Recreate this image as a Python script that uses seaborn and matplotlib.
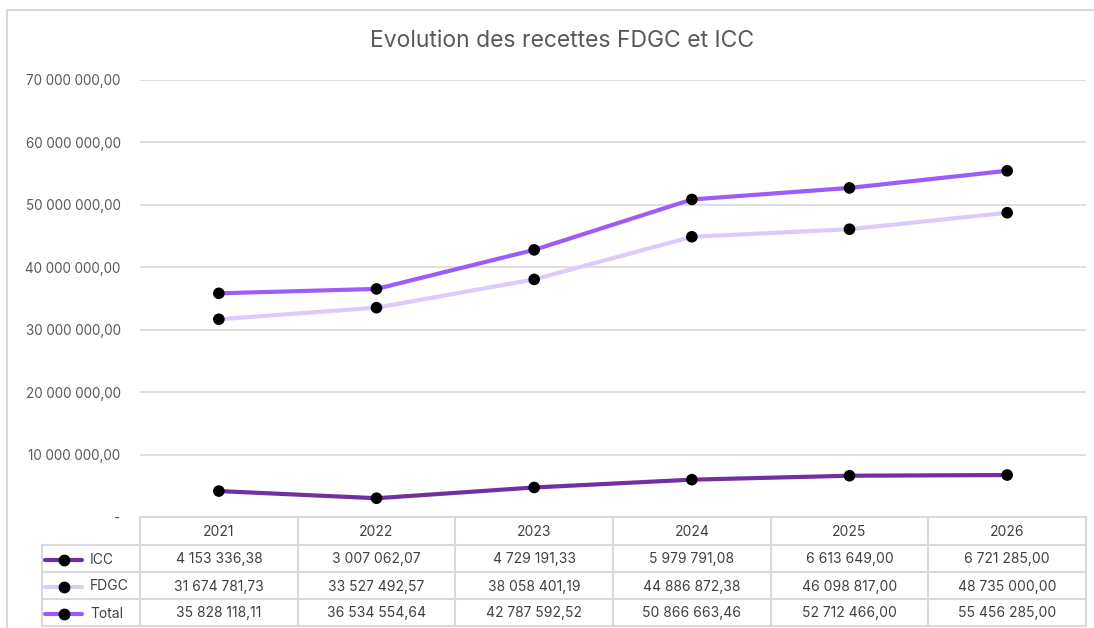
import numpy as np
import pandas as pd
import matplotlib
matplotlib.use('Agg')
import matplotlib.pyplot as plt
import seaborn as sns

years = ['2021', '2022', '2023', '2024', '2025', '2026']
icc = [4153336.38, 3007062.07, 4729191.33, 5979791.08, 6613649.00, 6721285.00]
fdgc = [31674781.73, 33527492.57, 38058401.19, 44886872.38, 46098817.00, 48735000.00]
total = [35828118.11, 36534554.64, 42787592.52, 50866663.46, 52712466.00, 55456285.00]
series = ['ICC', 'FDGC', 'Total']
colors = {'ICC': '#7030A0', 'FDGC': '#DCCBFA', 'Total': '#9B5CFA'}

df = pd.DataFrame({'Année': years * 3,
                   'Valeur': icc + fdgc + total,
                   'Série': [s for s in series for _ in years]})
df['pos'] = df['Année'].map({y: i for i, y in enumerate(years)})


def fr(v, dec=2):
    s = f'{v:,.{dec}f}'
    return s.replace(',', ' ').replace('.', ',')


sns.set_theme(style='white')
plt.rcParams['font.family'] = ['Inter', 'DejaVu Sans']
W, H = 1094, 628
fig = plt.figure(figsize=(W / 100, H / 100), dpi=100)
fig.patch.set_facecolor('white')

x0, x1, ytop, ybot = 140, 1086, 80, 517
ax = fig.add_axes([x0 / W, (H - ybot) / H, (x1 - x0) / W, (ybot - ytop) / H])
sns.lineplot(data=df, x='pos', y='Valeur', hue='Série', palette=colors,
             linewidth=3, legend=False, ax=ax, zorder=3)
sns.scatterplot(data=df, x='pos', y='Valeur', color='black', s=70,
                edgecolor='none', legend=False, ax=ax, zorder=4)
ax.set_xlim(-0.5, len(years) - 0.5)
ax.set_ylim(0, 70000000)
ax.set_yticks(np.arange(0, 70000001, 10000000))
ax.set_yticklabels(['-' if t == 0 else fr(t) for t in ax.get_yticks()],
                   color='#595959', fontsize=9.7)
ax.tick_params(axis='y', length=0, pad=14)
ax.set_xticks([])
ax.set_xlabel('')
ax.set_ylabel('')
ax.grid(axis='y', color='#D9D9D9', linewidth=1.2)
for sp in ax.spines.values():
    sp.set_visible(False)

# overlay in pixel coordinates for title, border and data table
ov = fig.add_axes([0, 0, 1, 1], zorder=-1)
ov.set_xlim(0, W)
ov.set_ylim(H, 0)
ov.axis('off')
ov.patch.set_alpha(0)
ov.plot([7, 7, W + 5], [H + 5, 10, 10], color='#D9D9D9', lw=1.5)
fig.text(562 / W, 1 - 41 / H, 'Evolution des recettes FDGC et ICC',
         ha='center', va='center', fontsize=16.5, color='#595959')

ov2 = fig.add_axes([0, 0, 1, 1], zorder=5)
ov2.set_xlim(0, W)
ov2.set_ylim(H, 0)
ov2.axis('off')
ov2.patch.set_alpha(0)
gc = '#D9D9D9'
colw = (x1 - x0) / len(years)
rows_y = [517, 545, 572, 599, 626]
lx = 42
# horizontal lines
ov2.plot([x0, x1], [rows_y[0]] * 2, color=gc, lw=1.5)
for yy in rows_y[1:]:
    ov2.plot([lx, x1], [yy, yy], color=gc, lw=1.5)
# vertical lines
ov2.plot([lx, lx], [rows_y[1], rows_y[-1]], color=gc, lw=1.5)
for i in range(len(years) + 1):
    ov2.plot([x0 + i * colw] * 2, [rows_y[0], rows_y[-1]], color=gc, lw=1.5)

tc = '#404040'
for i, y in enumerate(years):
    ov2.text(x0 + (i + 0.5) * colw, (rows_y[0] + rows_y[1]) / 2 + 1, y,
             ha='center', va='center', fontsize=10, color=tc)
vals = {'ICC': icc, 'FDGC': fdgc, 'Total': total}
for r, s in enumerate(series):
    yc = (rows_y[r + 1] + rows_y[r + 2]) / 2 + 1
    ov2.plot([45, 82], [yc, yc], color=colors[s], lw=3, solid_capstyle='round')
    ov2.plot([64], [yc], 'o', color='black', ms=7.5)
    ov2.text(90, yc, s, ha='left', va='center', fontsize=10, color=tc)
    for i, v in enumerate(vals[s]):
        ov2.text(x0 + (i + 0.5) * colw, yc, fr(v), ha='center', va='center',
                 fontsize=10, color=tc)

fig.savefig('out.png', dpi=100, facecolor='white')
